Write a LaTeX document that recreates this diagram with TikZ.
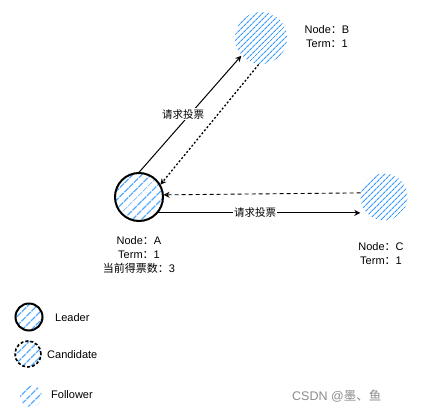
\documentclass[tikz,border=0pt]{standalone}
\usepackage{fontspec}
\setmainfont{Liberation Sans}
\newfontfamily\cjk{Noto Sans CJK SC}
\usetikzlibrary{arrows.meta,patterns.meta}
\definecolor{hatchblue}{RGB}{51,153,255}
\newcommand{\zh}[1]{{\cjk #1}}
\tikzset{
  hatchA/.style={pattern={Lines[angle=45,distance=6.5pt,line width=1.3pt]},pattern color=hatchblue},
  hatchF/.style={pattern={Lines[angle=45,distance=4pt,line width=1.1pt]},pattern color=hatchblue},
  leaderc/.style={circle,draw=black,line width=2pt,hatchA},
  candc/.style={circle,draw=black,line width=1.6pt,dash pattern=on 3pt off 2pt,hatchA},
  followc/.style={circle,hatchF},
  lbl/.style={font=\fontsize{11}{14}\selectfont,align=center,inner sep=0pt},
  arr/.style={line width=1pt,-{Stealth[open,length=6pt,width=6pt]}},
  msg/.style={font=\fontsize{10.5}{12}\selectfont\cjk,fill=white,inner sep=1pt},
}
\begin{document}
\begin{tikzpicture}[x=1pt,y=-1pt]
\useasboundingbox (0,0) rectangle (425,415);
% nodes
\node[leaderc,minimum size=48pt,inner sep=0pt] (A) at (139,197) {};
\node[followc,minimum size=52pt,inner sep=0pt] (B) at (261,38) {};
\node[followc,minimum size=47pt,inner sep=0pt] (C) at (384,197) {};
% connectors
\draw[arr] (A.north) -- node[msg,pos=0.5,xshift=-7pt] (m1) {请求投票} (B.222);
\draw[arr,line width=1.3pt,dash pattern=on 2pt off 2pt] (B.265) -- (A.30);
\draw[arr,line width=0.9pt,dash pattern=on 4pt off 3pt] (C.170) -- (A.5);
\coordinate (ae) at (A.-40);
\draw[arr] (ae) -- node[msg,pos=0.48] (m2) {请求投票} (ae -| C.west);
% labels
\node[lbl] (tB) at (327,37) {Node\zh{：}B\\Term\zh{：}1};
\node[lbl] (tC) at (381,254) {Node\zh{：}C\\Term\zh{：}1};
\node[lbl] (tA) at (139,255) {Node\zh{：}A\\Term\zh{：}1\\\zh{当前得票数：}3};
% legend
\node[leaderc,minimum size=27pt,inner sep=0pt] (L1) at (29,317) {};
\node[lbl,anchor=west] (L1t) at (55,318) {Leader};
\node[candc,minimum size=26pt,inner sep=0pt] (L2) at (28,354) {};
\node[lbl,anchor=west] (L2t) at (47,355) {Candidate};
\node[followc,hatchA,minimum size=22pt,inner sep=0pt] (L3) at (31,396) {};
\node[lbl,anchor=west] (L3t) at (51,395) {Follower};
% watermark
\node[font=\fontsize{12.5}{14}\selectfont,text=black!45,anchor=west,inner sep=0pt] (wm) at (292,396) {CSDN @\zh{墨、鱼}};
\end{tikzpicture}
\end{document}
